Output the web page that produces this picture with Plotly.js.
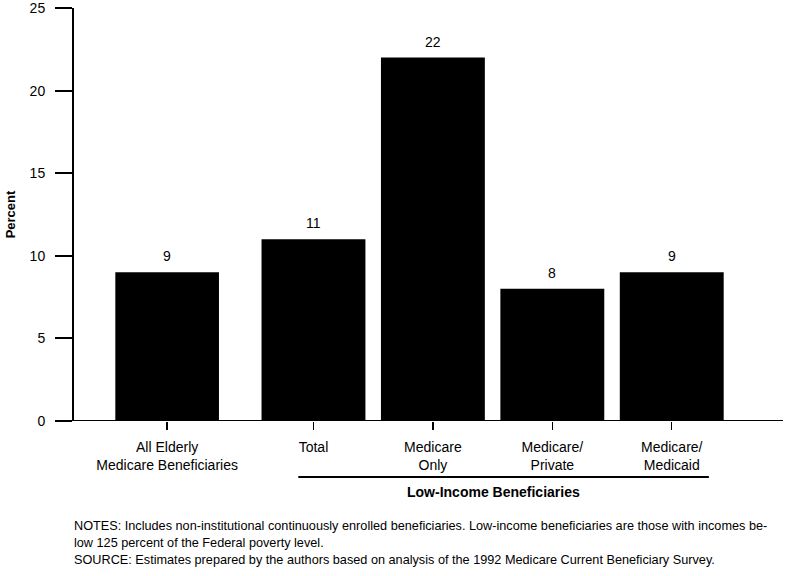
<!DOCTYPE html>
<html>
<head>
<meta charset="utf-8">
<script src="https://cdn.plot.ly/plotly-3.0.1.min.js"></script>
<style>html,body{margin:0;padding:0;background:#fff;}#chart{width:786px;height:576px;}</style>
</head>
<body>
<div id="chart"></div>
<script>
// Data
const categories = ["All Elderly<br>Medicare Beneficiaries", "Total", "Medicare<br>Only", "Medicare/<br>Private", "Medicare/<br>Medicaid"];
const values = [9, 11, 22, 8, 9];
const yTicks = [0, 5, 10, 15, 20, 25];
const groupLabel = "Low-Income Beneficiaries";
const notesText = "NOTES: Includes non-institutional continuously enrolled beneficiaries. Low-income beneficiaries are those with incomes be-<br>low 125 percent of the Federal poverty level.";
const sourceText = "SOURCE: Estimates prepared by the authors based on analysis of the 1992 Medicare Current Beneficiary Survey.";

const FONT = "Liberation Sans, Arial, Helvetica, sans-serif";

const allCats = categories.slice(0, 1), allVals = values.slice(0, 1);
const lowCats = categories.slice(1), lowVals = values.slice(1);

const traces = [
  {type: "bar", x: allCats, y: allVals, xaxis: "x", yaxis: "y",
   marker: {color: "#000000", line: {width: 0}}, hoverinfo: "x+y"},
  {type: "bar", x: lowCats, y: lowVals, xaxis: "x2", yaxis: "y",
   marker: {color: "#000000", line: {width: 0}}, hoverinfo: "x+y"}
];

const valueLabels = [];
allCats.forEach((c, i) => valueLabels.push({xref: "x", yref: "y", x: c, y: allVals[i], text: String(allVals[i]),
  showarrow: false, yanchor: "middle", yshift: 16, font: {family: FONT, size: 14, color: "#000"}}));
lowCats.forEach((c, i) => valueLabels.push({xref: "x2", yref: "y", x: c, y: lowVals[i], text: String(lowVals[i]),
  showarrow: false, yanchor: "middle", yshift: 16, font: {family: FONT, size: 14, color: "#000"}}));

const xCommon = {
  type: "category", showline: false, showgrid: false, zeroline: false,
  ticks: "outside", ticklen: 8, tickwidth: 1.5, tickcolor: "#000", ticklabelstandoff: 5,
  tickfont: {family: FONT, size: 14, color: "#000"}, anchor: "y", fixedrange: true
};

const layout = {
  width: 786, height: 576,
  margin: {l: 73, r: 3, t: 8, b: 155},
  paper_bgcolor: "#ffffff", plot_bgcolor: "#ffffff",
  showlegend: false, bargap: 0.13,
  font: {family: FONT, color: "#000"},
  xaxis: Object.assign({}, xCommon, {domain: [0.0487, 0.2165], range: [-0.5, 0.5]}),
  xaxis2: Object.assign({}, xCommon, {domain: [0.2546, 0.9274], range: [-0.5, 3.5]}),
  yaxis: {
    anchor: "free", position: 0,
    range: [0, 25], tickvals: yTicks, ticktext: yTicks.map(String),
    showline: true, linewidth: 2, linecolor: "#000", mirror: false,
    ticks: "outside", ticklen: 17, tickwidth: 2, tickcolor: "#000",
    showgrid: false, zeroline: false, ticklabelstandoff: 7, ticklabeloverflow: "allow",
    tickfont: {family: FONT, size: 14, color: "#000"},
    title: {text: "<b>Percent</b>", font: {family: FONT, size: 13, color: "#000"}, standoff: 10},
    fixedrange: true
  },
  shapes: [
    {type: "line", xref: "paper", yref: "y", x0: 0, x1: 1, y0: 0, y1: 0, line: {color: "#000", width: 2}},
    {type: "line", xref: "paper", yref: "paper", x0: 0.3173, x1: 0.8956, y0: -0.1356, y1: -0.1356, line: {color: "#000", width: 2}}
  ],
  annotations: valueLabels.concat([
    {xref: "paper", yref: "paper", x: 0.5925, y: -0.1719, text: "<b>" + groupLabel + "</b>", showarrow: false,
     xanchor: "center", yanchor: "middle", font: {family: FONT, size: 14, color: "#000"}},
    {xref: "paper", yref: "paper", x: -0.0014, y: -0.2518, text: notesText, showarrow: false, align: "left",
     xanchor: "left", yanchor: "top", yshift: 8, font: {family: FONT, size: 12.7, color: "#000"}},
    {xref: "paper", yref: "paper", x: -0.0014, y: -0.3366, text: sourceText, showarrow: false, align: "left",
     xanchor: "left", yanchor: "middle", font: {family: FONT, size: 12.7, color: "#000"}}
  ])
};

Plotly.newPlot("chart", traces, layout, {displayModeBar: false, staticPlot: true});
</script>
</body>
</html>
